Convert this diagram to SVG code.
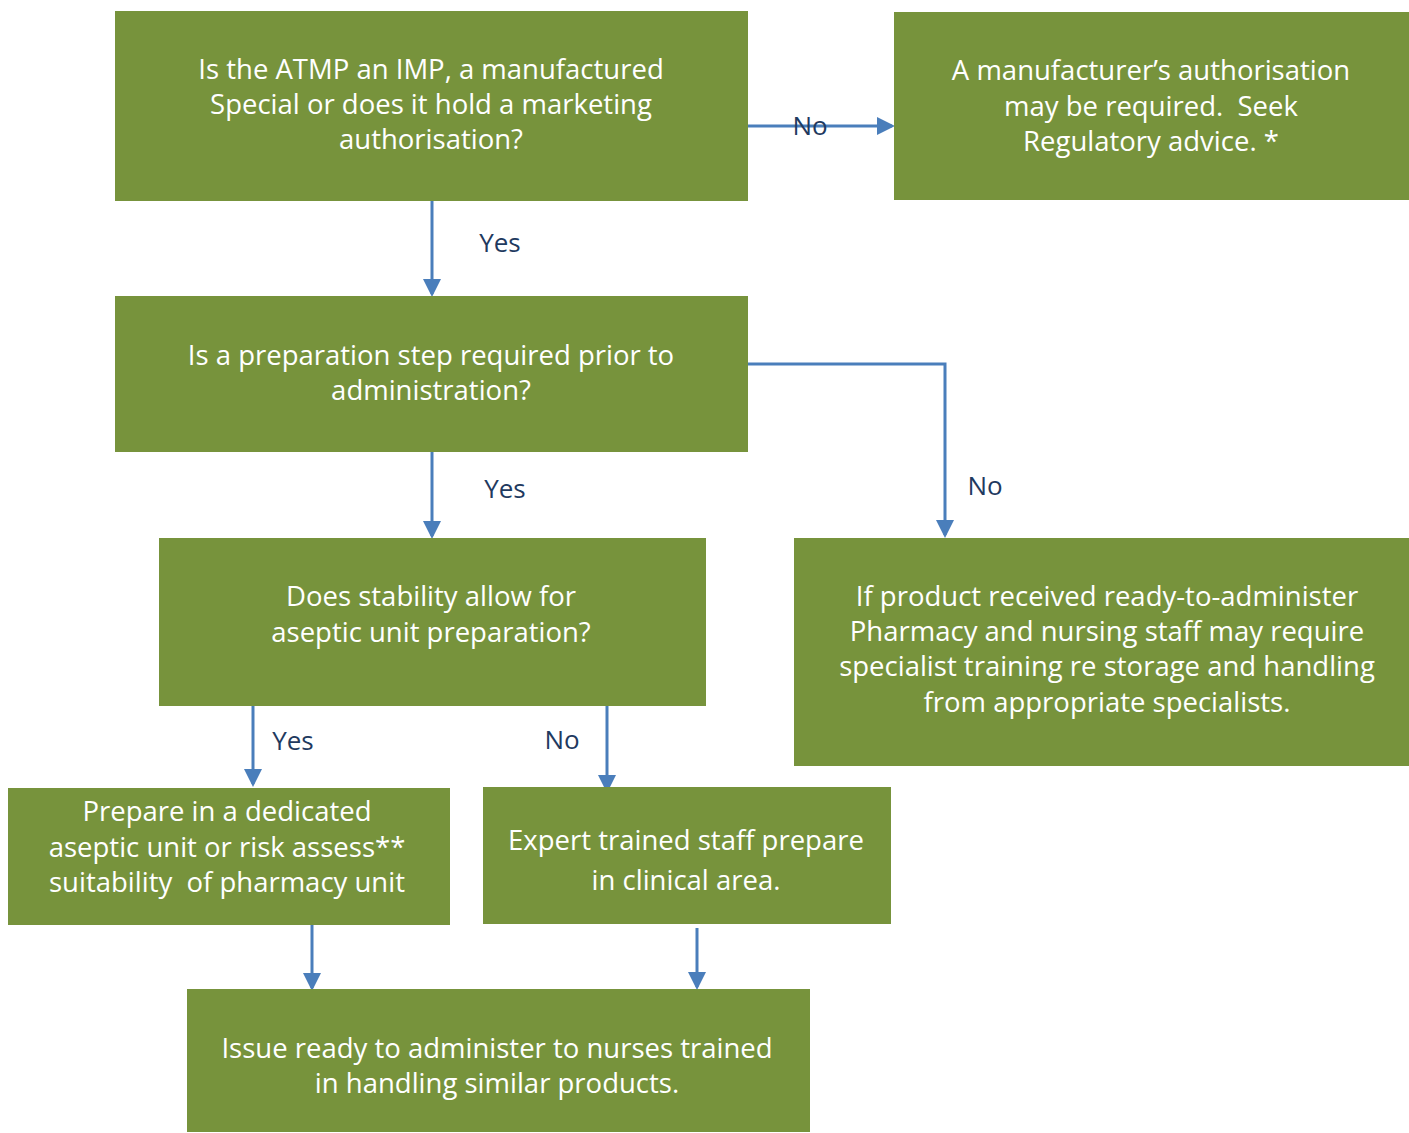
<svg xmlns="http://www.w3.org/2000/svg" width="1409" height="1133" viewBox="0 0 1409 1133">
<style>
.box{fill:#77933C;}
.t{font-family:"Open Sans","Liberation Sans",sans-serif;font-size:27.5px;fill:#FFFFFF;text-anchor:middle;}
.lbl{font-family:"Open Sans","Liberation Sans",sans-serif;font-size:26px;fill:#1F3A5F;text-anchor:middle;}
.c{fill:none;stroke:#4A7EBB;stroke-width:3;}
</style>
<defs>
<marker id="ah" markerWidth="6" markerHeight="6" refX="5" refY="3" orient="auto" markerUnits="strokeWidth">
<path d="M0,0 L6,3 L0,6 Z" fill="#4A7EBB"/>
</marker>
</defs>
<rect width="1409" height="1133" fill="#FFFFFF"/>
<g id="connectors">
<path class="c" d="M748,126 L892,126" marker-end="url(#ah)"/>
<path class="c" d="M432,201 L432,294" marker-end="url(#ah)"/>
<path class="c" d="M748,364 L945,364 L945,535" marker-end="url(#ah)"/>
<path class="c" d="M432,452 L432,536" marker-end="url(#ah)"/>
<path class="c" d="M253,706 L253,784" marker-end="url(#ah)"/>
<path class="c" d="M607,706 L607,790" marker-end="url(#ah)"/>
<path class="c" d="M312,925 L312,988" marker-end="url(#ah)"/>
<path class="c" d="M697,928 L697,987" marker-end="url(#ah)"/>
</g>
<g id="labels">
<text class="lbl" x="810" y="135">No</text>
<text class="lbl" x="500" y="252">Yes</text>
<text class="lbl" x="985" y="495">No</text>
<text class="lbl" x="505" y="498">Yes</text>
<text class="lbl" x="293" y="750">Yes</text>
<text class="lbl" x="562" y="749">No</text>
</g>
<g id="n1">
<rect class="box" x="115" y="11" width="633" height="190"/>
<text class="t" x="431" y="79">Is the ATMP an IMP, a manufactured</text>
<text class="t" x="431" y="114">Special or does it hold a marketing</text>
<text class="t" x="431" y="149">authorisation?</text>
</g>
<g id="n2">
<rect class="box" x="894" y="12" width="515" height="188"/>
<text class="t" x="1151" y="80">A manufacturer’s authorisation</text>
<text class="t" x="1151" y="116" xml:space="preserve">may be required.  Seek</text>
<text class="t" x="1151" y="151">Regulatory advice. *</text>
</g>
<g id="n3">
<rect class="box" x="115" y="296" width="633" height="156"/>
<text class="t" x="431" y="365">Is a preparation step required prior to</text>
<text class="t" x="431" y="400">administration?</text>
</g>
<g id="n4">
<rect class="box" x="159" y="538" width="547" height="168"/>
<text class="t" x="431" y="606">Does stability allow for</text>
<text class="t" x="431" y="642">aseptic unit preparation?</text>
</g>
<g id="n5">
<rect class="box" x="794" y="538" width="615" height="228"/>
<text class="t" x="1107" y="606">If product received ready-to-administer</text>
<text class="t" x="1107" y="641">Pharmacy and nursing staff may require</text>
<text class="t" x="1107" y="676">specialist training re storage and handling</text>
<text class="t" x="1107" y="712">from appropriate specialists.</text>
</g>
<g id="n6">
<rect class="box" x="8" y="788" width="442" height="137"/>
<text class="t" x="227" y="821">Prepare in a dedicated</text>
<text class="t" x="227" y="857">aseptic unit or risk assess**</text>
<text class="t" x="227" y="892" xml:space="preserve">suitability  of pharmacy unit</text>
</g>
<g id="n7">
<rect class="box" x="483" y="787" width="408" height="137"/>
<text class="t" x="686" y="850">Expert trained staff prepare</text>
<text class="t" x="686" y="890">in clinical area.</text>
</g>
<g id="n8">
<rect class="box" x="187" y="989" width="623" height="143"/>
<text class="t" x="497" y="1058">Issue ready to administer to nurses trained</text>
<text class="t" x="497" y="1093">in handling similar products.</text>
</g>
</svg>
